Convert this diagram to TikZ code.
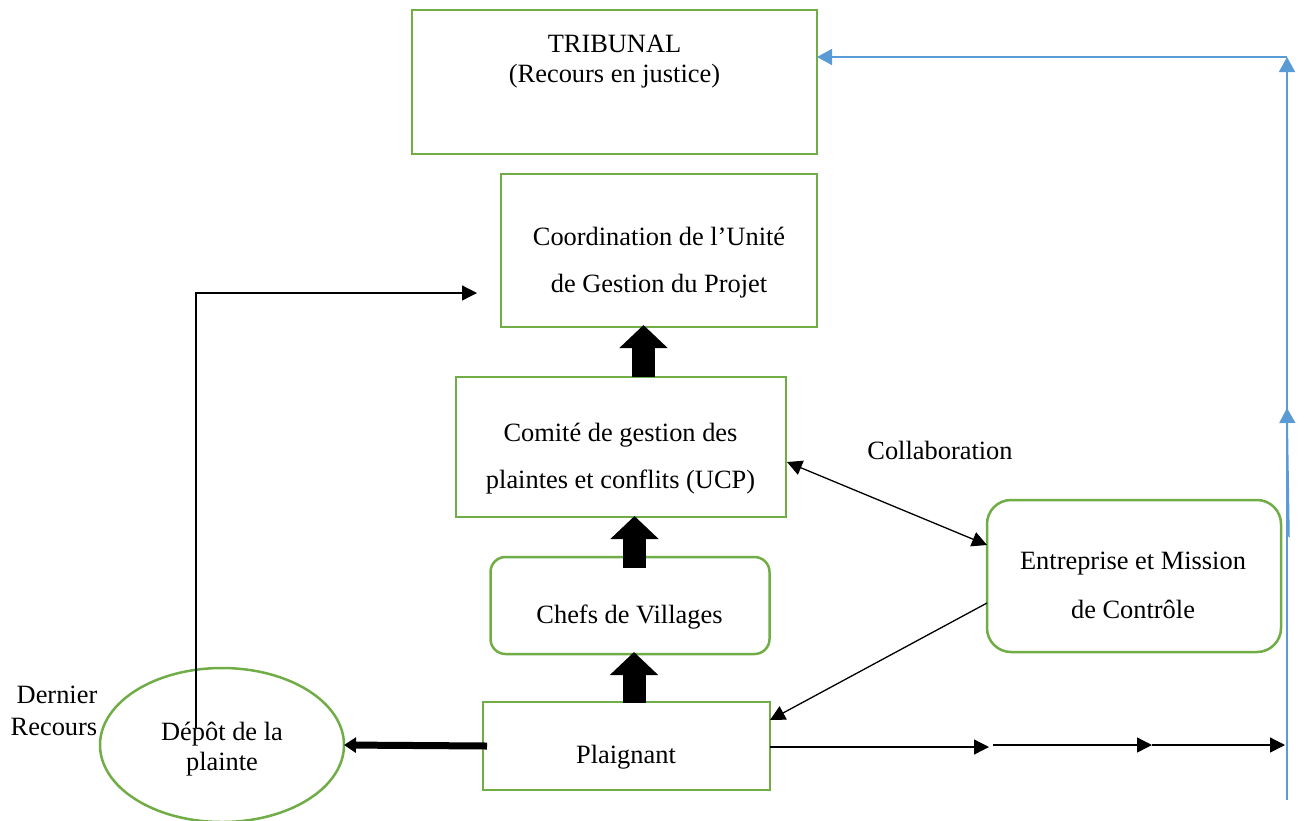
\documentclass[tikz,border=0pt]{standalone}
\usepackage{fontspec}
\setmainfont{Liberation Serif}
\usetikzlibrary{arrows.meta,shapes.geometric}
\definecolor{boxgreen}{RGB}{112,173,71}
\definecolor{lineblue}{RGB}{91,155,213}
\begin{document}
\begin{tikzpicture}[x=1pt,y=-1pt,
  box/.style={draw=boxgreen,line width=2.5pt,rectangle,inner sep=0pt,outer sep=0pt},
  rbox/.style={box,rounded corners=#1},
  oval/.style={draw=boxgreen,line width=2.5pt,ellipse,inner sep=0pt,outer sep=0pt},
  txt/.style={anchor=base,inner sep=0pt,font=\fontsize{26.4pt}{30pt}\selectfont},
  blockarrow/.style={line width=23pt,-{Triangle[width=47pt,length=23pt]}},
  thickarrow/.style={line width=7pt,-{Triangle[width=15pt,length=12pt]}},
  thinarrow/.style={line width=1.3pt,-{Triangle[width=15pt,length=15pt]}},
  bluearrow/.style={draw=lineblue,line width=1.5pt,-{Triangle[width=16pt,length=15pt]}}]
\useasboundingbox (0,0) rectangle (1305,820);
% boxes
\node[box,minimum width=405pt,minimum height=144pt] (tri) at (614.5,82) {};
\node[box,minimum width=316pt,minimum height=153pt] (coord) at (659,250.5) {};
\node[box,minimum width=330pt,minimum height=140pt] (comite) at (621,447) {};
\node[rbox=15pt,minimum width=279pt,minimum height=97pt] (chefs) at (630,605.5) {};
\node[box,minimum width=287pt,minimum height=88pt] (plaig) at (626.5,746) {};
\node[rbox=24pt,minimum width=294pt,minimum height=152pt] (ent) at (1134,576) {};
\node[oval,minimum width=244pt,minimum height=154pt] (depot) at (222,745) {};
% texts
\node[txt] (t1) at (614.5,52) {TRIBUNAL};
\node[txt] (t2) at (614.5,82) {(Recours en justice)};
\node[txt] (t3) at (659,245) {Coordination de l’Unité};
\node[txt] (t4) at (659,292) {de Gestion du Projet};
\node[txt] (t5) at (620.5,441) {Comité de gestion des};
\node[txt] (t6) at (620.5,488) {plaintes et conflits (UCP)};
\node[txt] (t7) at (940,459) {Collaboration};
\node[txt] (t8) at (629.5,623) {Chefs de Villages};
\node[txt] (t9) at (1133,569) {Entreprise et Mission};
\node[txt] (t10) at (1133,618) {de Contrôle};
\node[txt] (t11) at (626,763) {Plaignant};
\node[txt] (t12) at (222,740) {Dépôt de la};
\node[txt] (t13) at (222,770) {plainte};
\node[txt] (t14) at (57,703) {Dernier};
\node[txt] (t15) at (54,735) {Recours};
% block arrows
\draw[blockarrow] ([xshift=22.5pt]comite.north) -- ([xshift=-15.5pt,yshift=2pt]coord.south);
\draw[blockarrow] ([xshift=4.5pt,yshift=-11pt]chefs.north) -- ([xshift=13.5pt,yshift=1pt]comite.south);
\draw[blockarrow] ([xshift=7.5pt,yshift=-1pt]plaig.north) -- ([xshift=4pt,yshift=2pt]chefs.south);
\draw[thickarrow] ([xshift=4pt]plaig.west) -- (depot.east);
% dernier recours line
\coordinate (dr0) at (196,728);
\coordinate (dr1) at (477,293);
\draw[thinarrow] (dr0) |- (dr1);
% collaboration
\draw[line width=1.3pt,{Triangle[width=15pt,length=15pt]}-{Triangle[width=15pt,length=15pt]}] ([xshift=1pt,yshift=-15pt]comite.east) -- ([yshift=31pt]ent.west);
\draw[thinarrow] ([yshift=-27pt]ent.west) -- ([yshift=26pt]plaig.east);
% bottom chain
\coordinate (c1) at (989,747);
\coordinate (c2) at (993,745);
\coordinate (c3) at (1152,745);
\coordinate (c4) at (1285,745);
\draw[thinarrow] ([yshift=-1pt]plaig.east) -- (c1);
\draw[thinarrow] (c2) -- (c3);
\draw[thinarrow] (c3) -- (c4);
% blue line
\coordinate (b0) at (1287,800);
\coordinate (b1) at (1287,408);
\coordinate (b2) at (1287,57);
\coordinate (b3) at (1289,537);
\draw[bluearrow] (b0) -- (b2);
\draw[bluearrow] (b3) -- (b1);
\draw[bluearrow] (b2) -- (tri.east |- b2);
\end{tikzpicture}
\end{document}
